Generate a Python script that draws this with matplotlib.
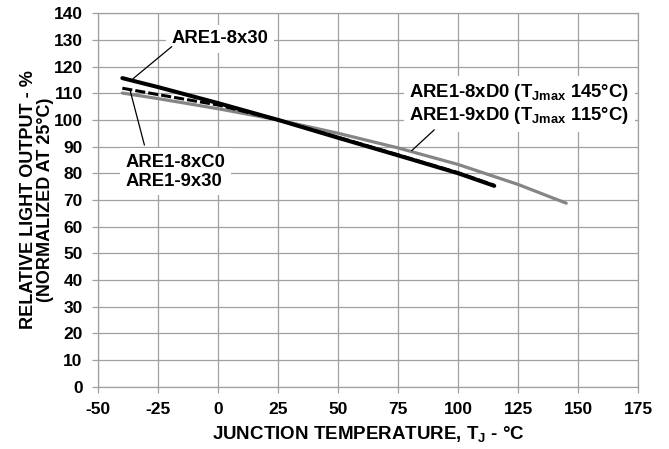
import matplotlib
matplotlib.use('Agg')
import matplotlib.pyplot as plt

# junction temperature (degC) and relative light output (%)
temp_830 = [-40, -25, 0, 25, 50, 75, 100, 115]
out_830 = [115.7, 112.3, 106.3, 100, 93.3, 86.7, 80.0, 75.3]

temp_8c0 = [-40, -25, 0, 25, 50, 75, 100, 115]
out_8c0 = [111.9, 109.5, 105.6, 100, 93.5, 86.9, 80.2, 75.5]

temp_8d0 = [-40, -25, 0, 25, 50, 75, 100, 125, 145]
out_8d0 = [110.1, 108.0, 104.2, 100, 95.0, 89.5, 83.3, 75.8, 68.8]

xticks = list(range(-50, 176, 25))
yticks = list(range(0, 141, 10))

plt.rcParams['font.family'] = ['Liberation Sans', 'DejaVu Sans']
plt.rcParams['font.weight'] = 'bold'
plt.rcParams['axes.unicode_minus'] = False
plt.rcParams['mathtext.fontset'] = 'custom'
plt.rcParams['mathtext.rm'] = 'Liberation Sans:bold'
plt.rcParams['mathtext.it'] = 'Liberation Sans:bold'
plt.rcParams['mathtext.bf'] = 'Liberation Sans:bold'

grid_c = '#a0a0a0'

fig = plt.figure(figsize=(6.69, 4.49), dpi=100)
ax = fig.add_axes([0.147, 0.1388, 0.807, 0.8316])

ax.plot(temp_8d0, out_8d0, color='#858585', lw=2.3, solid_capstyle='round', zorder=3)
ax.plot(temp_8c0, out_8c0, color='black', lw=2.2, dashes=(3.3, 1.0), zorder=4)
ax.plot(temp_830, out_830, color='black', lw=2.9, solid_capstyle='round', zorder=5)

ax.set_xlim(-50, 175)
ax.set_ylim(0, 140)
ax.set_xticks(xticks)
ax.set_yticks(yticks)
ax.grid(True, color=grid_c, lw=0.9)
ax.set_axisbelow(True)
for s in ax.spines.values():
    s.set_color(grid_c)
    s.set_linewidth(0.9)
ax.tick_params(direction='out', length=4.3, width=0.9, color=grid_c, labelsize=12.5, pad=7)
for lab in ax.get_xticklabels() + ax.get_yticklabels():
    lab.set_fontweight('bold')

ax.set_xlabel('JUNCTION TEMPERATURE, $T_J$ - °C', fontsize=13.5, fontweight='bold', labelpad=5)
ax.set_ylabel('RELATIVE LIGHT OUTPUT - %\n(NORMALIZED AT 25°C)', fontsize=13,
              fontweight='bold', labelpad=0, linespacing=1.0)

box = dict(boxstyle='square,pad=0.3', fc='white', ec='none')

ax.text(0.7, 130.4, 'ARE1-8x30', fontsize=13.3, fontweight='bold', ha='center', va='center',
        bbox=box, zorder=6)
ax.annotate('', xy=(-35.5, 115.5), xytext=(-19.4, 127.5),
            arrowprops=dict(arrowstyle='-', lw=0.9, color='black', shrinkA=0, shrinkB=0), zorder=6)

ax.text(-38.8, 80.6, 'ARE1-8xC0\nARE1-9x30', fontsize=13.3, fontweight='bold', ha='left',
        va='center', linespacing=1.15, bbox=box, zorder=6)
ax.annotate('', xy=(-36.8, 111.2), xytext=(-30.8, 90.6),
            arrowprops=dict(arrowstyle='-', lw=0.9, color='black', shrinkA=0, shrinkB=0), zorder=6)

ax.text(79.5, 106, 'ARE1-8xD0 ($T_{Jmax}$ 145°C)\nARE1-9xD0 ($T_{Jmax}$ 115°C)', fontsize=13.3,
        fontweight='bold', ha='left', va='center', linespacing=1.15, bbox=box, zorder=6)
ax.annotate('', xy=(80.6, 88.5), xytext=(90, 96.3),
            arrowprops=dict(arrowstyle='-', lw=0.9, color='black', shrinkA=0, shrinkB=0), zorder=6)

fig.savefig('out.png', dpi=100)
